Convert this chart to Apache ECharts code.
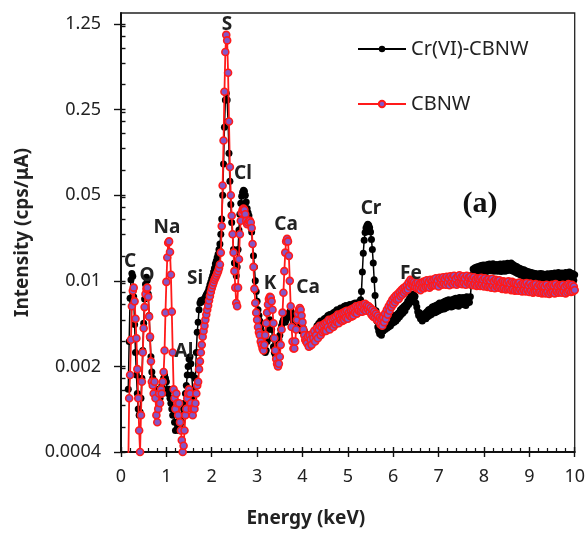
<!DOCTYPE html>
<html>
<head>
<meta charset="utf-8">
<script src="https://cdn.jsdelivr.net/npm/echarts@6/dist/echarts.min.js"></script>
<style>
  html, body { margin: 0; padding: 0; background: #fff; }
  #chart { width: 588px; height: 534px; }
</style>
</head>
<body>
<div id="chart"></div>
<script>
// EDS channel energies (keV), one row per 0.2 keV
const energyKeV = [
  0.1,0.12,0.14,0.16,0.18,0.2,0.22,0.24,0.26,0.28,
  0.3,0.32,0.34,0.36,0.38,0.4,0.42,0.44,0.46,0.48,
  0.5,0.52,0.54,0.56,0.58,0.6,0.62,0.64,0.66,0.68,
  0.7,0.72,0.74,0.76,0.78,0.8,0.82,0.84,0.86,0.88,
  0.9,0.92,0.94,0.96,0.98,1,1.02,1.04,1.06,1.08,
  1.1,1.12,1.14,1.16,1.18,1.2,1.22,1.24,1.26,1.28,
  1.3,1.32,1.34,1.36,1.38,1.4,1.42,1.44,1.46,1.48,
  1.5,1.52,1.54,1.56,1.58,1.6,1.62,1.64,1.66,1.68,
  1.7,1.72,1.74,1.76,1.78,1.8,1.82,1.84,1.86,1.88,
  1.9,1.92,1.94,1.96,1.98,2,2.02,2.04,2.06,2.08,
  2.1,2.12,2.14,2.16,2.18,2.2,2.22,2.24,2.26,2.28,
  2.3,2.32,2.34,2.36,2.38,2.4,2.42,2.44,2.46,2.48,
  2.5,2.52,2.54,2.56,2.58,2.6,2.62,2.64,2.66,2.68,
  2.7,2.72,2.74,2.76,2.78,2.8,2.82,2.84,2.86,2.88,
  2.9,2.92,2.94,2.96,2.98,3,3.02,3.04,3.06,3.08,
  3.1,3.12,3.14,3.16,3.18,3.2,3.22,3.24,3.26,3.28,
  3.3,3.32,3.34,3.36,3.38,3.4,3.42,3.44,3.46,3.48,
  3.5,3.52,3.54,3.56,3.58,3.6,3.62,3.64,3.66,3.68,
  3.7,3.72,3.74,3.76,3.78,3.8,3.82,3.84,3.86,3.88,
  3.9,3.92,3.94,3.96,3.98,4,4.02,4.04,4.06,4.08,
  4.1,4.12,4.14,4.16,4.18,4.2,4.22,4.24,4.26,4.28,
  4.3,4.32,4.34,4.36,4.38,4.4,4.42,4.44,4.46,4.48,
  4.5,4.52,4.54,4.56,4.58,4.6,4.62,4.64,4.66,4.68,
  4.7,4.72,4.74,4.76,4.78,4.8,4.82,4.84,4.86,4.88,
  4.9,4.92,4.94,4.96,4.98,5,5.02,5.04,5.06,5.08,
  5.1,5.12,5.14,5.16,5.18,5.2,5.22,5.24,5.26,5.28,
  5.3,5.32,5.34,5.36,5.38,5.4,5.42,5.44,5.46,5.48,
  5.5,5.52,5.54,5.56,5.58,5.6,5.62,5.64,5.66,5.68,
  5.7,5.72,5.74,5.76,5.78,5.8,5.82,5.84,5.86,5.88,
  5.9,5.92,5.94,5.96,5.98,6,6.02,6.04,6.06,6.08,
  6.1,6.12,6.14,6.16,6.18,6.2,6.22,6.24,6.26,6.28,
  6.3,6.32,6.34,6.36,6.38,6.4,6.42,6.44,6.46,6.48,
  6.5,6.52,6.54,6.56,6.58,6.6,6.62,6.64,6.66,6.68,
  6.7,6.72,6.74,6.76,6.78,6.8,6.82,6.84,6.86,6.88,
  6.9,6.92,6.94,6.96,6.98,7,7.02,7.04,7.06,7.08,
  7.1,7.12,7.14,7.16,7.18,7.2,7.22,7.24,7.26,7.28,
  7.3,7.32,7.34,7.36,7.38,7.4,7.42,7.44,7.46,7.48,
  7.5,7.52,7.54,7.56,7.58,7.6,7.62,7.64,7.66,7.68,
  7.7,7.72,7.74,7.76,7.78,7.8,7.82,7.84,7.86,7.88,
  7.9,7.92,7.94,7.96,7.98,8,8.02,8.04,8.06,8.08,
  8.1,8.12,8.14,8.16,8.18,8.2,8.22,8.24,8.26,8.28,
  8.3,8.32,8.34,8.36,8.38,8.4,8.42,8.44,8.46,8.48,
  8.5,8.52,8.54,8.56,8.58,8.6,8.62,8.64,8.66,8.68,
  8.7,8.72,8.74,8.76,8.78,8.8,8.82,8.84,8.86,8.88,
  8.9,8.92,8.94,8.96,8.98,9,9.02,9.04,9.06,9.08,
  9.1,9.12,9.14,9.16,9.18,9.2,9.22,9.24,9.26,9.28,
  9.3,9.32,9.34,9.36,9.38,9.4,9.42,9.44,9.46,9.48,
  9.5,9.52,9.54,9.56,9.58,9.6,9.62,9.64,9.66,9.68,
  9.7,9.72,9.74,9.76,9.78,9.8,9.82,9.84,9.86,9.88,
  9.9,9.92,9.94,9.96,9.98,10
];

// Cr(VI)-loaded sample, intensity in cps/µA
const crviCbnw = [
  null,null,null,.0013,.0032,.0072,.0102,.0115,.0109,.0074,
  .0044,.0026,.0017,.0012,.0009,.0008,.00085,.0011,.0016,.0027,
  .0045,.0071,.0094,.0107,.0101,.0078,.0052,.0034,.0024,.0018,
  .0016,.0014,.0015,.0012,.0013,.0011,.0012,.001,.0011,.0013,
  .0014,.0015,.0016,.0017,.0016,.0015,.0013,.0012,.0013,.0011,
  .001,.0009,.0008,.0009,.0007,.0006,.0007,.00062,.0007,.0006,
  .00065,.0006,.0007,.0008,.0009,.001,.0012,.0014,.0017,.002,
  .0023,.0024,.0021,.0017,.0013,.0011,.0012,.0016,.0026,.0038,
  .0046,.0058,.0066,.0069,.0068,.007,.0068,.0071,.0074,.0077,
  .0079,.0082,.0087,.0093,.0098,.0104,.011,.0118,.0127,.0138,
  .0145,.0155,.0165,.018,.02,.024,.032,.05,.09,.18,
  .30,.34,.30,.20,.11,.065,.042,.03,.024,.018,
  .014,.012,.011,.013,.018,.026,.035,.043,.049,.053,
  .055,.054,.05,.044,.039,.036,.034,.031,.028,.025,
  .02,.016,.013,.01,.0082,.0068,.0058,.0052,.0047,.0042,
  .0038,.0034,.003,.0028,.0026,.0027,.0032,.004,.0046,.0048,
  .0046,.004,.0034,.0029,.0026,.0025,.0026,.0028,.003,.0033,
  .0036,.004,.0043,.0046,.0048,.0047,.0046,.0048,.005,.0052,
  .0054,.0056,.0057,.0055,.005,.0046,.0043,.0042,.0043,.0044,
  .0045,.0044,.0042,.004,.0039,.004,.0041,.0039,.0036,.0034,
  .0033,.0030,.0034,.0029,.0033,.0036,.0031,.0038,.0034,.0040,
  .0037,.0043,.0038,.0045,.0040,.0047,.0041,.0046,.0042,.0049,
  .0044,.0050,.0045,.0052,.0046,.0053,.0047,.0051,.0048,.0055,
  .0049,.0056,.0051,.0058,.0050,.0057,.0053,.0060,.0052,.0059,
  .0054,.0062,.0055,.0063,.0056,.0061,.0057,.0064,.0058,.0062,
  .0057,.0065,.0059,.0066,.0060,.0064,.0061,.0067,.0063,.0070,
  .0082,.0118,.0168,.0215,.0248,.0270,.0282,.0290,.0284,.0272,
  .0250,.0218,.0180,.0140,.0102,.0076,.0057,.0047,.0042,.0039,
  .0037,.0041,.0036,.0043,.0039,.0045,.0040,.0046,.0041,.0044,
  .0042,.0048,.0043,.0050,.0045,.0052,.0046,.0051,.0047,.0053,
  .0049,.0055,.0051,.0058,.0053,.0060,.0055,.0062,.0057,.0064,
  .0061,.0068,.0064,.0072,.0067,.0076,.0070,.0078,.0072,.0075,
  .0066,.0061,.0056,.0052,.0055,.0049,.0053,.0047,.0052,.0049,
  .0054,.0049,.0056,.0051,.0058,.0052,.0059,.0053,.0061,.0055,
  .0062,.0055,.0063,.0056,.0064,.0057,.0066,.0058,.0065,.0059,
  .0067,.0059,.0068,.0060,.0069,.0061,.0070,.0062,.0068,.0061,
  .0070,.0062,.0071,.0063,.0072,.0064,.0070,.0062,.0073,.0065,
  .0072,.0064,.0073,.0065,.0071,.0063,.0074,.0066,.0072,.0067,
  .0074,.0092,.0112,.0125,.0113,.0128,.0116,.0130,.0117,.0131,
  .0118,.0133,.0119,.0134,.0120,.0135,.0121,.0133,.0119,.0136,
  .0122,.0137,.0121,.0135,.0123,.0138,.0120,.0134,.0122,.0136,
  .0120,.0135,.0121,.0137,.0119,.0134,.0122,.0138,.0120,.0136,
  .0121,.0139,.0123,.0137,.0122,.0140,.0121,.0136,.0119,.0133,
  .0117,.0131,.0115,.0128,.0113,.0126,.0111,.0124,.0110,.0123,
  .0108,.0121,.0106,.0119,.0105,.0118,.0104,.0117,.0103,.0116,
  .0102,.0115,.0101,.0114,.0100,.0113,.0101,.0115,.0102,.0114,
  .0100,.0113,.0099,.0112,.0101,.0114,.0100,.0113,.0102,.0115,
  .0101,.0114,.0102,.0116,.0100,.0113,.0103,.0117,.0101,.0115,
  .0102,.0116,.0100,.0114,.0103,.0117,.0101,.0115,.0104,.0118,
  .0102,.0116,.0103,.0114,.0101,.0112
];

// Pristine sample, intensity in cps/µA
const cbnw = [
  .0002,.0002,.00025,.0003,.0011,.0017,.0033,.0062,.0083,.0088,
  .0068,.0049,.0034,.0019,.0011,.0006,.0004,.0008,.0015,.0026,
  .0041,.0061,.0078,.0086,.0088,.0074,.0051,.0035,.0022,.0015,
  .0014,.0012,.0015,.0011,.0008,.0007,.0009,.0012,.001,.0013,
  .0012,.0015,.0018,.0027,.0055,.0098,.0155,.0205,.021,.0172,
  .0112,.0056,.0026,.0013,.0011,.0009,.0012,.001,.0008,.001,
  .0007,.0006,.0005,.0004,.00045,.0006,.0008,.0009,.0011,.0012,
  .0013,.0012,.001,.0009,.0008,.0009,.0009,.001,.0012,.0014,
  .0015,.0019,.0022,.0026,.003,.0035,.0039,.0043,.0048,.0053,
  .0058,.0063,.0069,.0075,.0081,.0087,.0092,.0097,.0102,.0106,
  .011,.0115,.012,.0127,.0136,.017,.028,.06,.14,.35,
  .74,1.02,.92,.5,.2,.085,.05,.034,.024,.017,
  .012,.0088,.0066,.0062,.0088,.015,.024,.031,.036,.038,
  .039,.038,.035,.031,.029,.03,.031,.031,.03,.027,
  .02,.013,.0086,.0066,.0055,.0048,.0042,.0038,.0036,.0032,
  .003,.0028,.0027,.003,.0036,.0045,.0055,.0064,.0071,.0074,
  .0073,.0068,.0058,.0045,.0034,.0027,.0023,.0021,.002,.0021,
  .0024,.003,.004,.0055,.008,.012,.017,.021,.022,.021,
  .016,.01,.0062,.0042,.0032,.0028,.0028,.0032,.004,.0048,
  .0054,.0058,.006,.0058,.0052,.0046,.004,.0036,.0033,.0032,
  .0031,.0035,.0029,.0036,.0033,.0030,.0037,.0034,.0039,.0032,
  .0036,.0041,.0034,.0040,.0043,.0036,.0042,.0038,.0044,.0039,
  .0045,.0039,.0046,.0042,.0048,.0040,.0047,.0043,.0049,.0042,
  .0050,.0044,.0051,.0046,.0053,.0045,.0052,.0048,.0054,.0047,
  .0055,.0048,.0056,.0050,.0057,.0049,.0055,.0052,.0058,.0051,
  .0059,.0052,.0060,.0055,.0062,.0054,.0061,.0057,.0063,.0056,
  .0062,.0056,.0064,.0058,.0065,.0057,.0063,.0059,.0062,.0056,
  .0060,.0053,.0058,.0051,.0056,.0050,.0054,.0048,.0052,.0047,
  .0050,.0044,.0049,.0043,.0050,.0046,.0054,.0049,.0058,.0053,
  .0062,.0057,.0066,.0061,.0070,.0064,.0073,.0067,.0076,.0070,
  .0078,.0071,.0081,.0075,.0084,.0077,.0087,.0080,.0089,.0083,
  .0092,.0085,.0097,.0090,.0102,.0094,.0100,.0091,.0098,.0089,
  .0095,.0087,.0097,.0086,.0094,.0084,.0096,.0088,.0098,.0087,
  .0099,.0089,.0101,.0090,.0098,.0088,.0102,.0091,.0100,.0092,
  .0103,.0092,.0105,.0094,.0101,.0090,.0106,.0095,.0104,.0093,
  .0107,.0095,.0104,.0093,.0108,.0096,.0105,.0092,.0109,.0097,
  .0106,.0094,.0110,.0097,.0104,.0093,.0108,.0096,.0111,.0095,
  .0107,.0094,.0109,.0096,.0105,.0093,.0110,.0097,.0106,.0094,
  .0108,.0095,.0104,.0092,.0107,.0094,.0103,.0091,.0105,.0093,
  .0104,.0091,.0106,.0093,.0102,.0090,.0105,.0092,.0101,.0089,
  .0103,.0090,.0100,.0088,.0104,.0091,.0099,.0087,.0102,.0090,
  .0100,.0088,.0101,.0089,.0097,.0086,.0099,.0087,.0098,.0085,
  .0097,.0086,.0099,.0087,.0095,.0084,.0098,.0085,.0096,.0083,
  .0096,.0084,.0094,.0083,.0097,.0085,.0093,.0082,.0095,.0084,
  .0094,.0082,.0096,.0084,.0092,.0081,.0095,.0083,.0091,.0080,
  .0093,.0081,.0094,.0082,.0090,.0080,.0093,.0081,.0091,.0079,
  .0092,.0080,.0090,.0079,.0093,.0081,.0089,.0078,.0091,.0080,
  .0093,.0081,.0091,.0079,.0094,.0082,.0090,.0080,.0092,.0081,
  .0091,.0080,.0093,.0082,.0089,.0079,.0092,.0081,.0094,.0083,
  .0092,.0081,.0093,.0082,.0090,.0084
];

const seriesNames = ['Cr(VI)-CBNW', 'CBNW'];

// Log axis (factor-5 steps)
const yTickValues = [0.0004, 0.002, 0.01, 0.05, 0.25, 1.25];
const yTickLabels = ['0.0004', '0.002', '0.01', '0.05', '0.25', '1.25'];
const yMinorTickValues = [
  0.00064, 0.00096, 0.00128, 0.0016, 0.00192,
  0.0032, 0.0048, 0.0064, 0.008, 0.0096,
  0.016, 0.024, 0.032, 0.04, 0.048,
  0.08, 0.12, 0.16, 0.2, 0.24,
  0.4, 0.6, 0.8, 1.0, 1.2
];

const elementNames = ['C', 'O', 'Na', 'Al', 'Si', 'S', 'Cl', 'K', 'Ca', 'Ca', 'Cr', 'Fe'];

const sansFont = '"Noto Sans", "Open Sans", sans-serif';
const inkColor = '#222';

function pairs(values) {
  return energyKeV.map((e, i) => [e, values[i]]);
}

function yLabel(v) {
  let best = 0;
  for (let i = 1; i < yTickValues.length; i++) {
    if (Math.abs(Math.log(yTickValues[i] / v)) < Math.abs(Math.log(yTickValues[best] / v))) best = i;
  }
  return yTickLabels[best];
}

// Annotation placement (pixel centres) for the element markers
const labelSpots = [
  [130, 262], [147, 276], [167, 228], [184, 352], [195, 279], [227, 25],
  [243, 174], [270, 284], [286, 225], [308, 288], [371, 209], [411, 274]
];

const tickStroke = { color: '#111', width: 1.4 };

const chart = echarts.init(document.getElementById('chart'), null, { renderer: 'canvas' });

chart.setOption({
  animation: false,
  backgroundColor: '#ffffff',
  textStyle: { fontFamily: sansFont },
  grid: {
    left: 121, right: 13, top: 13, bottom: 82,
    show: true, borderColor: '#222', borderWidth: 1.3, backgroundColor: 'transparent'
  },
  legend: {
    orient: 'vertical',
    left: 352, top: 34,
    itemWidth: 48, itemHeight: 8, itemGap: 35,
    selectedMode: false,
    textStyle: { fontSize: 20, color: inkColor, fontFamily: sansFont },
    data: seriesNames
  },
  xAxis: [
    {
      type: 'value', min: 0, max: 10, interval: 1, position: 'bottom',
      axisLine: { onZero: false, lineStyle: { color: '#111', width: 2 } },
      axisTick: { show: true, inside: false, length: 5, lineStyle: tickStroke },
      minorTick: { show: false },
      splitLine: { show: false },
      axisLabel: { fontSize: 18, color: inkColor, margin: 16, fontFamily: sansFont },
      name: 'Energy (keV)', nameLocation: 'middle', nameGap: 57,
      nameTextStyle: { fontSize: 19, fontWeight: 'bold', color: inkColor, fontFamily: sansFont, padding: [0, 84, 0, 0] }
    },
    {
      type: 'value', min: 0, max: 10, interval: 1, position: 'bottom',
      axisLine: { show: false, onZero: false },
      axisLabel: { show: false },
      splitLine: { show: false },
      axisTick: { show: true, inside: true, length: 5, lineStyle: tickStroke },
      minorTick: { show: true, splitNumber: 5, length: 4, lineStyle: { color: '#111', width: 1.2 } }
    }
  ],
  yAxis: [
    {
      type: 'log', logBase: 5, min: 0.0004, max: 1.54, position: 'left',
      axisLine: { show: true, onZero: false, lineStyle: { color: '#111', width: 2 } },
      axisTick: { show: true, inside: false, length: 7, customValues: yTickValues, lineStyle: tickStroke },
      axisLabel: {
        customValues: yTickValues, formatter: yLabel,
        fontSize: 18, color: inkColor, margin: 20, fontFamily: sansFont
      },
      splitLine: { show: false },
      minorTick: { show: false },
      name: 'Intensity (cps/μA)', nameLocation: 'middle', nameGap: 89, nameRotate: 90,
      nameTextStyle: { fontSize: 19, fontWeight: 'bold', color: inkColor, fontFamily: sansFont }
    },
    {
      type: 'log', logBase: 5, min: 0.0004, max: 1.54, position: 'left',
      axisLine: { show: false, onZero: false },
      axisLabel: { show: false },
      splitLine: { show: false },
      axisTick: {
        show: true, inside: true, length: 4.5,
        customValues: yTickValues.concat(yMinorTickValues), lineStyle: tickStroke
      }
    }
  ],
  series: [
    {
      name: seriesNames[0], type: 'line', xAxisIndex: 0, yAxisIndex: 0,
      data: pairs(crviCbnw),
      symbol: 'circle', symbolSize: 7, showSymbol: true,
      itemStyle: { color: '#000000' },
      lineStyle: { color: '#000000', width: 1.5 },
      z: 2
    },
    {
      name: seriesNames[1], type: 'line', xAxisIndex: 0, yAxisIndex: 0,
      data: pairs(cbnw),
      symbol: 'circle', symbolSize: 7, showSymbol: true,
      itemStyle: { color: '#8456c6', borderColor: '#ff1a1a', borderWidth: 1.6 },
      lineStyle: { color: '#ff1a1a', width: 1.8 },
      z: 3
    }
  ],
  graphic: elementNames.map((name, i) => ({
    type: 'text', z: 10,
    style: {
      text: name, x: labelSpots[i][0], y: labelSpots[i][1],
      align: 'center', verticalAlign: 'middle',
      font: 'bold 19px ' + sansFont, fill: inkColor
    }
  })).concat([{
    type: 'text', z: 10,
    style: {
      text: '(a)', x: 480, y: 204, align: 'center', verticalAlign: 'middle',
      font: 'bold 30px "Liberation Serif", "Times New Roman", serif', fill: '#111'
    }
  }])
});
</script>
</body>
</html>
